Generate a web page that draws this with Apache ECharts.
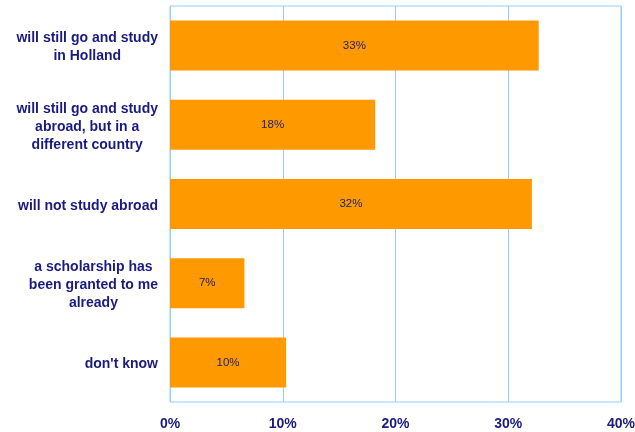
<!DOCTYPE html>
<html>
<head>
<meta charset="utf-8">
<script src="https://cdn.jsdelivr.net/npm/echarts@6/dist/echarts.min.js"></script>
<style>html,body{margin:0;padding:0;background:#fff}#c{width:635px;height:432px}</style>
</head>
<body>
<div id="c"></div>
<script>
var categories = [
  "will still go and study\nin Holland",
  "will still go and study\nabroad, but in a\ndifferent country",
  "will not study abroad",
  "a scholarship has\nbeen granted to me\nalready",
  "don't know"
];
var values = [32.7, 18.2, 32.1, 6.6, 10.3];
var valueLabels = ["33%", "18%", "32%", "7%", "10%"];
var xTicks = [0, 10, 20, 30, 40];

var chart = echarts.init(document.getElementById('c'));
chart.setOption({
  animation: false,
  grid: { left: 170, right: 14, top: 6, bottom: 30, show: true, borderColor: '#99ccff', borderWidth: 1, containLabel: false, outerBoundsMode: 'none' },
  xAxis: {
    type: 'value', min: xTicks[0], max: xTicks[xTicks.length - 1], interval: 10,
    axisLine: { show: false }, axisTick: { show: false },
    splitLine: { show: true, lineStyle: { color: '#99ccff', width: 1 } },
    axisLabel: { formatter: '{value}%', color: '#1a1a80', fontFamily: 'Liberation Sans, Arial, sans-serif', fontWeight: 'bold', fontSize: 14, margin: 15 }
  },
  yAxis: {
    type: 'category', inverse: true, data: categories,
    axisLine: { show: false }, axisTick: { show: false }, splitLine: { show: false },
    axisLabel: {
      margin: 12, align: 'right', padding: [4, 0, 0, 0],
      formatter: function (v) { return v.split('\n').map(function (l) { return '{a|' + l + '}'; }).join('\n'); },
      rich: { a: { align: 'center', color: '#1a1a80', fontFamily: 'Liberation Sans, Arial, sans-serif', fontWeight: 'bold', fontSize: 14, lineHeight: 18 } }
    }
  },
  series: [{
    type: 'bar', data: values, barWidth: 50,
    itemStyle: { color: '#ff9900' },
    label: {
      show: true, position: 'inside', color: '#22226a',
      fontFamily: 'Liberation Sans, Arial, sans-serif', fontSize: 11.5,
      formatter: function (p) { return valueLabels[p.dataIndex]; }
    }
  }]
});
</script>
</body>
</html>
